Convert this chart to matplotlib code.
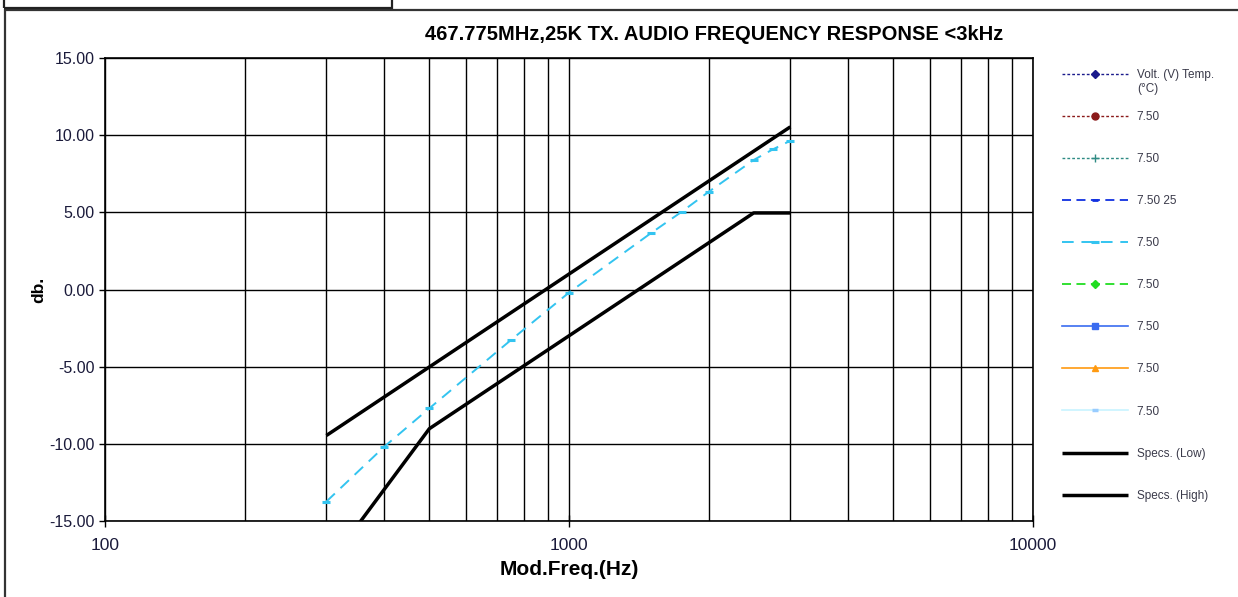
import numpy as np
import matplotlib
matplotlib.use('Agg')
import matplotlib.pyplot as plt
from matplotlib.patches import Rectangle

plt.rcParams['font.family'] = ['Liberation Sans', 'DejaVu Sans']

# measured response (the only series with data)
freq_meas = [300, 400, 500, 750, 1000, 1500, 1750, 2000, 2500, 2750, 3000]
db_meas = [-13.74, -10.18, -7.70, -3.27, -0.20, 3.64, 5.04, 6.33, 8.39, 9.08, 9.64]

# spec limits
freq_low = [300, 500, 1000, 2500, 3000]
db_low = [-18.0, -9.02, -3.0, 4.96, 4.96]
freq_high = [300, 500, 1000, 2500, 3000]
db_high = [-9.46, -5.02, 1.0, 8.96, 10.54]

legend_labels = ['Volt. (V) Temp.', '7.50', '7.50', '7.50 25', '7.50',
                 '7.50', '7.50', '7.50', '7.50', 'Specs. (Low)', 'Specs. (High)']
yticks = [-15, -10, -5, 0, 5, 10, 15]

fig = plt.figure(figsize=(12.38, 5.97), dpi=100)

# outer chart frame and the box above it
fig.patches.append(Rectangle((5/1238, -0.05), 1.1, 1 - 10/597 + 0.05, transform=fig.transFigure,
                             fill=False, edgecolor='#333333', lw=1.6))
fig.patches.append(Rectangle((4/1238, 1 - 8/597), 388/1238, 0.05, transform=fig.transFigure,
                             fill=False, edgecolor='#222222', lw=1.6))

ax = fig.add_axes([105/1238, 1 - 521/597, 928/1238, 463/597])

# empty series that only show up in the legend
h = []
h += ax.plot([], [], color='#1a1a8c', ls=(0, (2, 1.5)), lw=1, marker='D', ms=4)
h += ax.plot([], [], color='#8b1a1a', ls=(0, (2, 1.5)), lw=1, marker='o', ms=5)
h += ax.plot([], [], color='#2e8b84', ls=(0, (2, 1.5)), lw=1, marker='+', ms=6)
h += ax.plot([], [], color='#1030e0', ls=(0, (5, 3)), lw=1.3, marker='_', ms=5, mew=2)
h += ax.plot(freq_meas, db_meas, color='#33c4f0', ls=(0, (6, 4)), lw=1.4,
             marker='_', ms=6, mew=2.2)
h += ax.plot([], [], color='#22dd22', ls=(0, (5, 3)), lw=1.3, marker='D', ms=4)
h += ax.plot([], [], color='#3a6cf0', ls='-', lw=1.2, marker='s', ms=5)
h += ax.plot([], [], color='#ff9a10', ls='-', lw=1.2, marker='^', ms=5)
h += ax.plot([], [], color='#c8f4ff', ls='-', lw=1.2, marker='_', ms=4, mew=2.5,
             markeredgecolor='#99ccff')
h += ax.plot(freq_low, db_low, color='black', lw=2.5, solid_capstyle='butt')
h += ax.plot(freq_high, db_high, color='black', lw=2.5, solid_capstyle='butt')

ax.set_xscale('log')
ax.set_xlim(100, 10000)
ax.set_ylim(-15, 15)
ax.set_yticks(yticks)
ax.set_yticklabels(['%.2f' % v for v in yticks])
ax.set_xticks([100, 1000, 10000])
ax.set_xticklabels(['100', '1000', '10000'])
ax.grid(True, which='both', axis='x', color='black', lw=1)
ax.grid(True, which='major', axis='y', color='black', lw=1)
ax.set_axisbelow(True)
ax.tick_params(axis='y', which='major', labelsize=11.5, labelcolor='#1a1a3a', length=4, width=1)
ax.tick_params(axis='x', which='minor', length=0)
ax.tick_params(axis='x', which='major', labelsize=12.5, labelcolor='#1a1a3a',
               direction='inout', length=8, width=1, pad=8)
for s in ax.spines.values():
    s.set_color('black')
    s.set_linewidth(1.2)

ax.set_xlabel('Mod.Freq.(Hz)', fontsize=15, fontweight='bold', labelpad=5)
ax.set_ylabel('db.', fontsize=12.5, fontweight='bold', labelpad=2)

fig.text(714/1238, 1 - 35/597, '467.775MHz,25K TX. AUDIO FREQUENCY RESPONSE <3kHz',
         ha='center', va='center', fontsize=14.5, fontweight='bold')

leg = fig.legend(h, legend_labels, loc='upper left', bbox_to_anchor=(1057/1238, 1 - 64/597),
                 frameon=False, fontsize=8.5, handlelength=5.6, handletextpad=0.76,
                 labelspacing=2.55, borderaxespad=0, borderpad=0.4)
for t in leg.get_texts():
    t.set_color('#3a3a4a')

# second line of the first legend label hangs below it, as in the original
fig.canvas.draw()
bb = leg.get_texts()[0].get_window_extent().transformed(fig.transFigure.inverted())
fig.text(bb.x0, bb.y0 - 2/597, '(\u00b0C)', ha='left', va='top',
         fontsize=8.5, color='#3a3a4a')

fig.savefig('out.png', dpi=100)
